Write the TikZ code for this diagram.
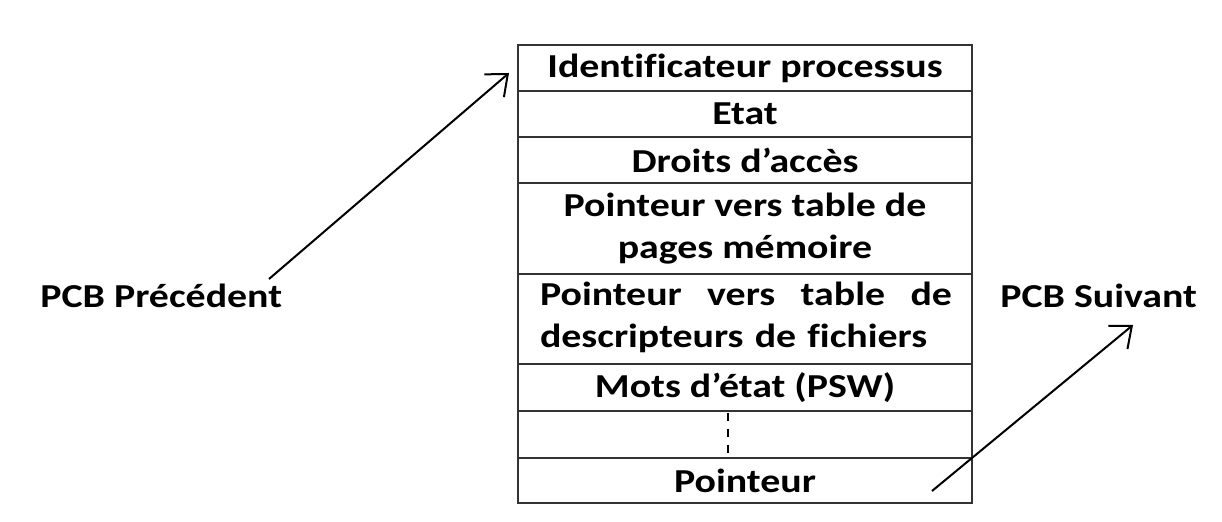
\documentclass[tikz,border=0pt]{standalone}
\usepackage{fontspec}
\setmainfont{Carlito}[Ligatures=NoCommon, FakeStretch=1.19]
\usetikzlibrary{arrows.meta}
\begin{document}
\begin{tikzpicture}[x=0.5pt,y=-0.5pt,
  font=\fontsize{16.75}{21}\selectfont\bfseries,
  field/.style={draw=black!80, line width=0.75pt, inner sep=0pt, outer sep=0pt,
    minimum width=227pt, align=center},
  label/.style={inner sep=0pt},
  link/.style={line width=1pt, -{Straight Barb[length=9pt,width=15pt,line width=1pt]}}]
  \useasboundingbox (0,0) rectangle (1222,522);

  % PCB fields, top to bottom
  \node[field, minimum height=23pt]   (r1) at (745,68)    {Identificateur processus};
  \node[field, minimum height=23pt]   (r2) at (745,114)   {Etat};
  \node[field, minimum height=23pt]   (r3) at (745,160)   {Droits d’accès};
  \node[field, minimum height=45.5pt] (r4) at (745,228.5) {Pointeur vers table de\\pages mémoire};
  \node[field, minimum height=45pt]   (r5) at (745,319)   {};
  \node[label, text width=206pt, align=left] (r5t) at (746,317)
    {\hbox to 206pt{Pointeur\hfill vers\hfill table\hfill de}\\descripteurs de fichiers};
  \node[field, minimum height=23.5pt] (r6) at (745,387.5) {Mots d’état (PSW)};
  \node[field, minimum height=23.5pt] (r7) at (745,434.5) {};
  \node[field, minimum height=22.5pt] (r8) at (745,480.5) {Pointeur};

  % elided fields
  \draw[line width=1pt, dash pattern=on 4pt off 4pt] (728,413) -- (728,456);

  % neighbouring PCBs
  \node[label, anchor=west] (prec) at (40,296) {PCB Précédent};
  \node[label, anchor=west] (suiv) at (1000,296) {PCB Suivant};

  \coordinate (ptip) at (509,73);
  \coordinate (pstart) at (269,279);
  \coordinate (sstart) at (932,491);
  \coordinate (stip) at (1133,325);
  \draw[link] (pstart) -- (ptip);
  \draw[link] (sstart) -- (stip);
\end{tikzpicture}
\end{document}
